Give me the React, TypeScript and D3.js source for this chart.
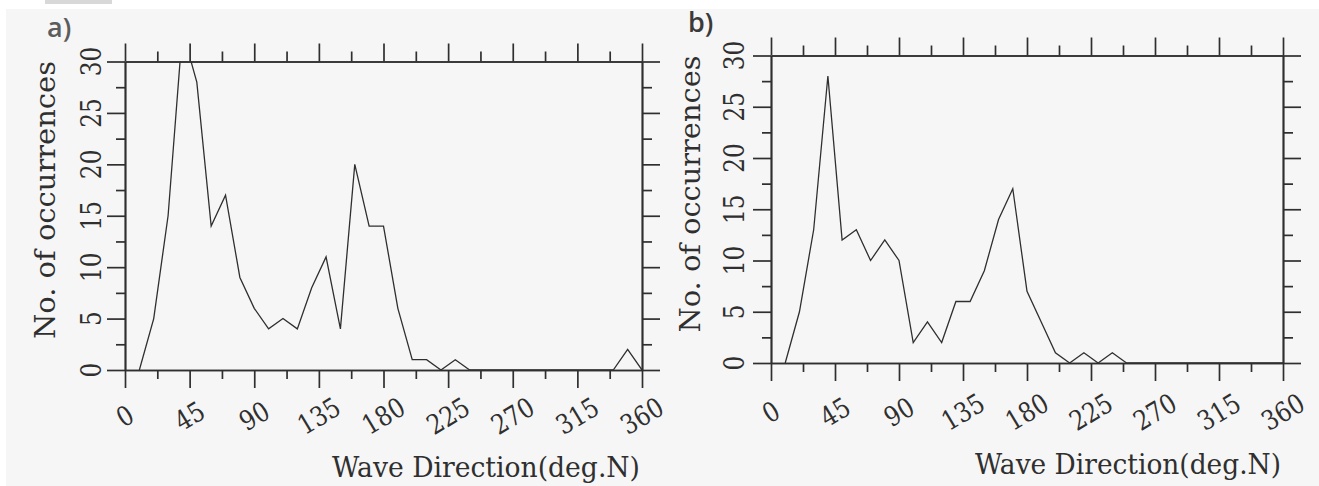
import React, { useEffect, useRef } from 'react';
import * as d3 from 'd3';

// wave direction bins (deg.N), one count per 10 degree bin
const directions = [10, 20, 30, 40, 50, 60, 70, 80, 90, 100, 110, 120, 130, 140, 150, 160, 170, 180,
  190, 200, 210, 220, 230, 240, 250, 260, 270, 280, 290, 300, 310, 320, 330, 340, 350, 360];

const countsA = [0, 5, 15, 33, 28, 14, 17, 9, 6, 4, 5, 4, 8, 11, 4, 20, 14, 14,
  6, 1, 1, 0, 1, 0, 0, 0, 0, 0, 0, 0, 0, 0, 0, 0, 2, 0];

const countsB = [0, 5, 13, 28, 12, 13, 10, 12, 10, 2, 4, 2, 6, 6, 9, 14, 17, 7,
  4, 1, 0, 1, 0, 1, 0, 0, 0, 0, 0, 0, 0, 0, 0, 0, 0, 0];

const xMajor = [0, 45, 90, 135, 180, 225, 270, 315, 360];
const xMinor = [22.5, 67.5, 112.5, 157.5, 202.5, 247.5, 292.5, 337.5];
const yMajor = [0, 5, 10, 15, 20, 25, 30];
const yMinor = [2.5, 7.5, 12.5, 17.5, 22.5, 27.5];

const xTitle = 'Wave Direction(deg.N)';
const yTitle = 'No. of occurrences';

const W = 1319;
const H = 486;
const INK = '#2f2f2f';
const FONT = '"DejaVu Serif", serif';
const CHAR_W = 14.8;

const panels = [
  { id: 'a', tag: 'a)', tagX: 47, tagY: 37, tagColor: '#5c5c5c', counts: countsA,
    left: 125, right: 642, bottom: 370, top: 61.5,
    tickLabelY: 416, yLabelX: 91, yTitleX: 45, yTitleY: 200, yTitleLen: 278,
    xTitleX0: 332, xTitleX1: 640, xTitleBase: 477 },
  { id: 'b', tag: 'b)', tagX: 688, tagY: 32, tagColor: '#3a3a3a', counts: countsB,
    left: 771, right: 1283, bottom: 363, top: 55.5,
    tickLabelY: 412, yLabelX: 734, yTitleX: 690, yTitleY: 194, yTitleLen: 277,
    xTitleX0: 975, xTitleX1: 1281, xTitleBase: 474 },
];

const App: React.FC = () => {
  const svgRef = useRef<SVGSVGElement>(null);

  useEffect(() => {
    if (!svgRef.current) return;
    const svg = d3.select(svgRef.current);
    svg.selectAll('*').remove();

    svg.append('rect').attr('width', W).attr('height', H).attr('fill', '#ffffff');
    svg.append('rect').attr('x', 6).attr('y', 9).attr('width', W - 6).attr('height', H - 9).attr('fill', '#f6f6f6');
    svg.append('rect').attr('x', 45).attr('y', 0).attr('width', 67).attr('height', 4).attr('fill', '#d8d8d8');

    panels.forEach(p => {
      const x = d3.scaleLinear().domain([0, 360]).range([p.left, p.right]);
      const y = d3.scaleLinear().domain([0, 30]).range([p.bottom, p.top]);
      const g = svg.append('g').attr('color', INK);

      const addAxis = (axis: any, transform: string, values: number[], size: number) => {
        const a = g.append('g')
          .attr('transform', transform)
          .call(axis.tickValues(values).tickSize(size).tickSizeOuter(0).tickFormat(() => ''));
        a.selectAll('line').attr('stroke-width', 1.7);
        a.select('.domain').attr('stroke-width', 1.7);
      };

      // frame: ticks point outward on all four sides
      addAxis(d3.axisBottom(x), `translate(0,${p.bottom})`, xMajor, 18);
      addAxis(d3.axisBottom(x), `translate(0,${p.bottom})`, xMinor, 9);
      addAxis(d3.axisTop(x), `translate(0,${p.top})`, xMajor, 18);
      addAxis(d3.axisTop(x), `translate(0,${p.top})`, xMinor, 10);
      addAxis(d3.axisLeft(y), `translate(${p.left},0)`, yMajor, 18);
      addAxis(d3.axisLeft(y), `translate(${p.left},0)`, yMinor, 9);
      addAxis(d3.axisRight(y), `translate(${p.right},0)`, yMajor, 18);
      addAxis(d3.axisRight(y), `translate(${p.right},0)`, yMinor, 10);

      const clipId = `clip-${p.id}`;
      svg.append('clipPath').attr('id', clipId)
        .append('rect')
        .attr('x', p.left).attr('y', p.top)
        .attr('width', p.right - p.left).attr('height', p.bottom - p.top);

      const line = d3.line<number>()
        .x((_, i) => x(directions[i]))
        .y(d => y(d));

      g.append('path')
        .datum(p.counts)
        .attr('clip-path', `url(#${clipId})`)
        .attr('fill', 'none')
        .attr('stroke', INK)
        .attr('stroke-width', 1.3)
        .attr('d', line);

      // x tick labels, tilted
      g.selectAll('text.xt')
        .data(xMajor)
        .join('text')
        .attr('class', 'xt')
        .attr('transform', d => `translate(${x(d)},${p.tickLabelY}) rotate(-31)`)
        .attr('text-anchor', 'middle')
        .attr('dominant-baseline', 'central')
        .attr('font-family', FONT)
        .attr('font-size', 27)
        .attr('fill', INK)
        .attr('textLength', d => String(d).length * CHAR_W)
        .attr('lengthAdjust', 'spacingAndGlyphs')
        .text(d => String(d));

      // y tick labels, rotated
      g.selectAll('text.yt')
        .data(yMajor)
        .join('text')
        .attr('class', 'yt')
        .attr('transform', d => `translate(${p.yLabelX},${y(d)}) rotate(-90)`)
        .attr('text-anchor', 'middle')
        .attr('dominant-baseline', 'central')
        .attr('font-family', FONT)
        .attr('font-size', 27)
        .attr('fill', INK)
        .attr('textLength', d => String(d).length * CHAR_W)
        .attr('lengthAdjust', 'spacingAndGlyphs')
        .text(d => String(d));

      g.append('text')
        .attr('x', p.xTitleX0)
        .attr('y', p.xTitleBase)
        .attr('font-family', FONT)
        .attr('font-size', 28)
        .attr('fill', INK)
        .attr('textLength', p.xTitleX1 - p.xTitleX0)
        .attr('lengthAdjust', 'spacingAndGlyphs')
        .text(xTitle);

      g.append('text')
        .attr('transform', `translate(${p.yTitleX},${p.yTitleY}) rotate(-90)`)
        .attr('text-anchor', 'middle')
        .attr('dominant-baseline', 'central')
        .attr('font-family', FONT)
        .attr('font-size', 28)
        .attr('fill', INK)
        .attr('textLength', p.yTitleLen)
        .attr('lengthAdjust', 'spacingAndGlyphs')
        .text(yTitle);

      svg.append('text')
        .attr('x', p.tagX)
        .attr('y', p.tagY)
        .attr('font-family', '"Open Sans", sans-serif')
        .attr('font-weight', 600)
        .attr('font-size', 27)
        .attr('fill', p.tagColor)
        .text(p.tag);
    });
  }, []);

  return (
    <svg ref={svgRef} width={W} height={H}
      style={{ position: 'absolute', left: 0, top: 0, display: 'block' }} />
  );
};

export default App;
